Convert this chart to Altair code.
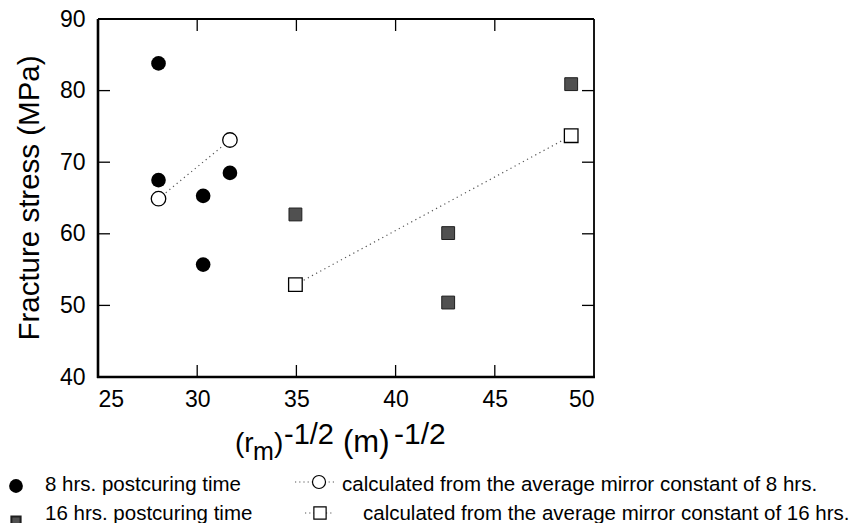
import altair as alt
import pandas as pd

# ---- data ----
x8 = [28.05, 28.05, 30.3, 30.3, 31.65]
y8 = [83.8, 67.5, 65.3, 55.7, 68.5]
x16 = [34.95, 42.65, 42.65, 48.85]
y16 = [62.7, 60.1, 50.4, 80.9]
calc8_x = [28.05, 31.65]
calc8_y = [64.9, 73.1]
calc16_x = [34.95, 48.85]
calc16_y = [52.9, 73.7]

x_ticks = [25, 30, 35, 40, 45, 50]
y_ticks = [40, 50, 60, 70, 80, 90]
x_inner = [30, 35, 40, 45]
y_inner = [50, 60, 70, 80]

legend_8 = "8 hrs. postcuring time"
legend_16 = "16 hrs. postcuring time"
legend_c8 = "calculated from the average mirror constant of 8 hrs."
legend_c16 = "calculated from the average mirror constant of 16 hrs."
y_title = "Fracture stress (MPa)"

W, H = 496, 358
FONT = "Liberation Sans"

xs = alt.Scale(domain=[25, 50], nice=False, zero=False)
ys = alt.Scale(domain=[40, 90], nice=False, zero=False)

df8 = pd.DataFrame({"x": x8, "y": y8})
df16 = pd.DataFrame({"x": x16, "y": y16})
dc8 = pd.DataFrame({"x": calc8_x, "y": calc8_y})
dc16 = pd.DataFrame({"x": calc16_x, "y": calc16_y})

xaxis = alt.Axis(values=x_ticks, ticks=False, domain=False, grid=False, labelFont=FONT,
                 labelFontSize=23, labelColor="black", labelPadding=11, title=None)
yaxis = alt.Axis(values=y_ticks, ticks=False, domain=False, grid=False, labelFont=FONT,
                 labelFontSize=23, labelColor="black", labelPadding=13, title=None)

base_axes = alt.Chart(pd.DataFrame({"x": [25], "y": [40]})).mark_point(opacity=0).encode(
    x=alt.X("x:Q", scale=xs, axis=xaxis),
    y=alt.Y("y:Q", scale=ys, axis=yaxis),
)

# inner ticks
dxt = pd.DataFrame({"x": x_inner})
dyt = pd.DataFrame({"y": y_inner})
tick_bottom = alt.Chart(dxt).mark_rule(color="black", strokeWidth=1.3).encode(
    x=alt.X("x:Q", scale=xs), y=alt.value(H - 12), y2=alt.value(H))
tick_top = alt.Chart(dxt).mark_rule(color="black", strokeWidth=1.3).encode(
    x=alt.X("x:Q", scale=xs), y=alt.value(0), y2=alt.value(12))
tick_left = alt.Chart(dyt).mark_rule(color="black", strokeWidth=1.3).encode(
    y=alt.Y("y:Q", scale=ys), x=alt.value(0), x2=alt.value(12))
tick_right = alt.Chart(dyt).mark_rule(color="black", strokeWidth=1.3).encode(
    y=alt.Y("y:Q", scale=ys), x=alt.value(W - 12), x2=alt.value(W))

# frame: thicker left/bottom, thinner top/right
one = pd.DataFrame({"a": [0]})
frame_lb = [
    alt.Chart(one).mark_rule(color="black", strokeWidth=2.6).encode(
        x=alt.value(0), y=alt.value(0), y2=alt.value(H + 1)),
    alt.Chart(one).mark_rule(color="black", strokeWidth=2.6).encode(
        x=alt.value(-1), x2=alt.value(W + 1), y=alt.value(H)),
    alt.Chart(one).mark_rule(color="black", strokeWidth=1.8).encode(
        x=alt.value(0), x2=alt.value(W), y=alt.value(0)),
    alt.Chart(one).mark_rule(color="black", strokeWidth=1.8).encode(
        x=alt.value(W), y=alt.value(0), y2=alt.value(H)),
]

line8 = alt.Chart(dc8).mark_line(color="#555", strokeWidth=1.2, strokeDash=[1.2, 3.5]).encode(
    x=alt.X("x:Q", scale=xs), y=alt.Y("y:Q", scale=ys))
line16 = alt.Chart(dc16).mark_line(color="#555", strokeWidth=1.2, strokeDash=[1.2, 3.5]).encode(
    x=alt.X("x:Q", scale=xs), y=alt.Y("y:Q", scale=ys))

pts8 = alt.Chart(df8).mark_point(shape="circle", filled=True, color="black", size=215, opacity=1).encode(
    x=alt.X("x:Q", scale=xs), y=alt.Y("y:Q", scale=ys))
pts16 = alt.Chart(df16).mark_point(shape="square", filled=True, fill="#505050", stroke="#1e1e1e",
                                   strokeWidth=1, size=165, opacity=1).encode(
    x=alt.X("x:Q", scale=xs), y=alt.Y("y:Q", scale=ys))
pc8 = alt.Chart(dc8).mark_point(shape="circle", filled=True, fill="white", stroke="black",
                                strokeWidth=1.3, size=210, opacity=1).encode(
    x=alt.X("x:Q", scale=xs), y=alt.Y("y:Q", scale=ys))
pc16 = alt.Chart(dc16).mark_point(shape="square", filled=True, fill="white", stroke="black",
                                  strokeWidth=1.3, size=185, opacity=1).encode(
    x=alt.X("x:Q", scale=xs), y=alt.Y("y:Q", scale=ys))


def txt(s, x, y, size, align="left", baseline="alphabetic", angle=0):
    return alt.Chart(pd.DataFrame({"t": [s]})).mark_text(
        font=FONT, fontSize=size, color="black", align=align, baseline=baseline, angle=angle
    ).encode(x=alt.value(x), y=alt.value(y), text="t:N")


# y title
ytitle = txt(y_title, -68, H / 2, 29.5, align="center", baseline="middle", angle=270)

# x title pieces: (r_m)^-1/2 (m)^-1/2
xt = [
    txt("(r", 137, 433, 28),
    txt("m", 155, 441, 25),
    txt(")", 176, 433, 28),
    txt("-1/2", 186, 425, 29),
    txt("(m)", 245, 433, 31),
    txt("-1/2", 296, 425, 30),
]

# legend
leg = [
    alt.Chart(one).mark_point(shape="circle", filled=True, color="black", size=190, opacity=1).encode(
        x=alt.value(-82), y=alt.value(467)),
    txt(legend_8, -53, 472, 20.5),
    alt.Chart(one).mark_point(shape="square", filled=True, fill="#505050", stroke="#1e1e1e",
                              size=85, opacity=1).encode(x=alt.value(-82), y=alt.value(502)),
    txt(legend_16, -53, 501, 20.5),
    alt.Chart(one).mark_rule(color="#555", strokeWidth=1.2, strokeDash=[1.2, 3]).encode(
        x=alt.value(197), x2=alt.value(236), y=alt.value(463)),
    alt.Chart(one).mark_point(shape="circle", filled=True, fill="white", stroke="black",
                              strokeWidth=1.2, size=170, opacity=1).encode(x=alt.value(221), y=alt.value(463)),
    txt(legend_c8, 244, 472, 20.5),
    alt.Chart(one).mark_rule(color="#555", strokeWidth=1.2, strokeDash=[1.2, 3]).encode(
        x=alt.value(207), x2=alt.value(236), y=alt.value(494)),
    alt.Chart(one).mark_point(shape="square", filled=True, fill="white", stroke="black",
                              strokeWidth=1.2, size=150, opacity=1).encode(x=alt.value(222), y=alt.value(494)),
    txt(legend_c16, 265, 501, 20.5),
]

chart = alt.layer(
    base_axes, line8, line16, pts8, pts16, pc8, pc16,
    tick_bottom, tick_top, tick_left, tick_right, *frame_lb, ytitle, *xt, *leg
).properties(
    width=W, height=H,
    autosize=alt.AutoSizeParams(type="none"),
    padding={"left": 90, "top": 11, "right": 255, "bottom": 146},
).configure_view(stroke=None).configure(background="white")

chart.save("out.html", embed_options={"renderer": "svg", "actions": False})
